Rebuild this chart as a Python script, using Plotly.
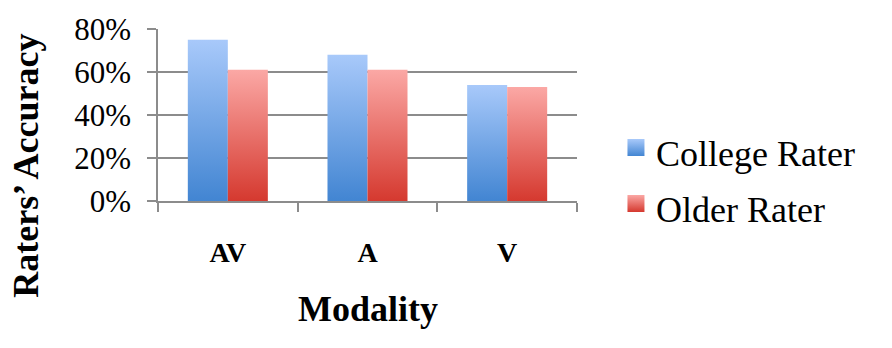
import plotly.graph_objects as go

categories = ["AV", "A", "V"]
college_rater = [0.75, 0.68, 0.54]
older_rater = [0.61, 0.61, 0.53]
y_ticks = [0, 0.2, 0.4, 0.6, 0.8]
y_tick_labels = ["0%", "20%", "40%", "60%", "80%"]

FONT = "Liberation Serif, Times New Roman, serif"
GRID = "#8c8c8c"

fig = go.Figure()
fig.add_trace(go.Bar(x=categories, y=college_rater, name="College Rater",
                     marker=dict(color="#6fa3e6", line=dict(width=0)),
                     legendgroup="g1"))
fig.add_trace(go.Bar(x=categories, y=older_rater, name="Older Rater",
                     marker=dict(color="#e8706b", line=dict(width=0)),
                     legendgroup="g2"))

fig.update_layout(
    width=892, height=348,
    margin=dict(l=158, r=315, t=22, b=147),
    plot_bgcolor="white", paper_bgcolor="white",
    barmode="group", bargap=0.427, bargroupgap=0,
    font=dict(family=FONT, color="black"),
    showlegend=True,
    legend=dict(x=1.093, y=0.458, xanchor="left", yanchor="top",
                font=dict(family=FONT, size=36, color="black"),
                tracegroupgap=6, traceorder="grouped",
                bgcolor="rgba(0,0,0,0)"),
    xaxis=dict(type="category", tickson="boundaries", ticks="outside",
               ticklen=9, tickwidth=1.5, tickcolor=GRID,
               showline=True, linecolor=GRID, linewidth=1.5,
               showgrid=False, ticklabelstandoff=26,
               tickfont=dict(family=FONT, size=28, color="black", weight="bold")),
    yaxis=dict(range=[0, 0.8], tickvals=y_ticks, ticktext=y_tick_labels,
               ticks="outside", ticklen=9, tickwidth=1.5, tickcolor=GRID,
               showline=True, linecolor=GRID, linewidth=1.5,
               showgrid=True, gridcolor=GRID, gridwidth=1.5,
               zeroline=False, ticklabelstandoff=10,
               tickfont=dict(family=FONT, size=31, color="black")),
    annotations=[
        dict(text="<b>Modality</b>", xref="paper", yref="paper",
             x=0.5, y=-0.626, xanchor="center", yanchor="middle",
             showarrow=False, font=dict(family=FONT, size=36, color="black")),
        dict(text="<b>Raters’ Accuracy</b>", xref="paper", yref="paper",
             x=-0.315, y=0.205, xanchor="center", yanchor="middle",
             textangle=-90, showarrow=False,
             font=dict(family=FONT, size=36, color="black")),
    ],
)

post = """
document.body.style.margin = '0';
document.documentElement.style.margin = '0';
var gd = document.getElementById('{plot_id}');
function addGrad(id, top, bottom) {
  var svg = gd.querySelector('svg.main-svg');
  var defs = svg.querySelector('defs');
  var ns = 'http://www.w3.org/2000/svg';
  var g = document.createElementNS(ns, 'linearGradient');
  g.setAttribute('id', id);
  g.setAttribute('x1', '0'); g.setAttribute('y1', '0');
  g.setAttribute('x2', '0'); g.setAttribute('y2', '1');
  var s1 = document.createElementNS(ns, 'stop');
  s1.setAttribute('offset', '0'); s1.setAttribute('stop-color', top);
  var s2 = document.createElementNS(ns, 'stop');
  s2.setAttribute('offset', '1'); s2.setAttribute('stop-color', bottom);
  g.appendChild(s1); g.appendChild(s2); defs.appendChild(g);
}
addGrad('gradBlue', '#a8c9fa', '#4285d2');
addGrad('gradRed', '#fba8a5', '#d5392f');
var ids = ['gradBlue', 'gradRed'];
var traces = gd.querySelectorAll('.barlayer .trace.bars');
traces.forEach(function(t, i) {
  t.querySelectorAll('path').forEach(function(p) { p.style.fill = 'url(#' + ids[i] + ')'; });
});
var leg = gd.querySelectorAll('.legend .traces');
leg.forEach(function(t, i) {
  t.querySelectorAll('.legendpoints path').forEach(function(p) {
    p.style.fill = 'url(#' + ids[i] + ')';
    p.style.stroke = 'none';
    p.setAttribute('d', 'M8.5,4H-8.5V-13H8.5Z');
  });
});
"""

fig.write_html("out.html", post_script=post, config={"displayModeBar": False})
